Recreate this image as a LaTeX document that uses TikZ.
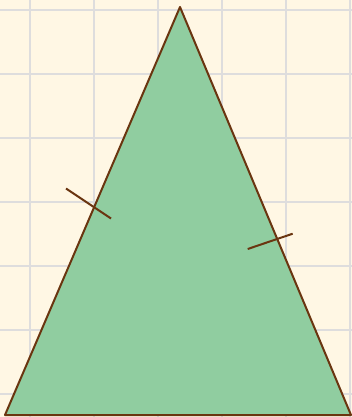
\documentclass[tikz,border=0pt]{standalone}
\definecolor{bgcream}{HTML}{FFF7E4}
\definecolor{gridgray}{HTML}{DEDDDD}
\definecolor{trifill}{HTML}{90CDA0}
\definecolor{tristroke}{HTML}{6A3510}
\tikzset{
  gridline/.style={gridgray, line width=2.4pt},
  edge/.style={tristroke, line width=2pt, line join=round},
  tick/.style={tristroke, line width=2pt}
}
\begin{document}
\begin{tikzpicture}[x=1pt,y=-1pt]
\fill[bgcream] (0,0) rectangle (352,417);
\useasboundingbox (0,0) rectangle (352,417);
\foreach \gx in {30,94,158,222,286,350} \draw[gridline] (\gx,0) -- (\gx,417);
\foreach \gy in {10,74,138,202,266,330,394} \draw[gridline] (0,\gy) -- (352,\gy);
\coordinate (A) at (180,7);
\coordinate (B) at (5,415);
\coordinate (C) at (351,415);
\filldraw[edge, fill=trifill] (A) -- (B) -- (C) -- cycle;
\coordinate (L1) at (66,188.5);
\coordinate (L2) at (111,218.5);
\coordinate (R1) at (247.7,249);
\coordinate (R2) at (292.7,233.7);
\draw[tick] (L1) -- (L2);
\draw[tick] (R1) -- (R2);
\end{tikzpicture}
\end{document}
